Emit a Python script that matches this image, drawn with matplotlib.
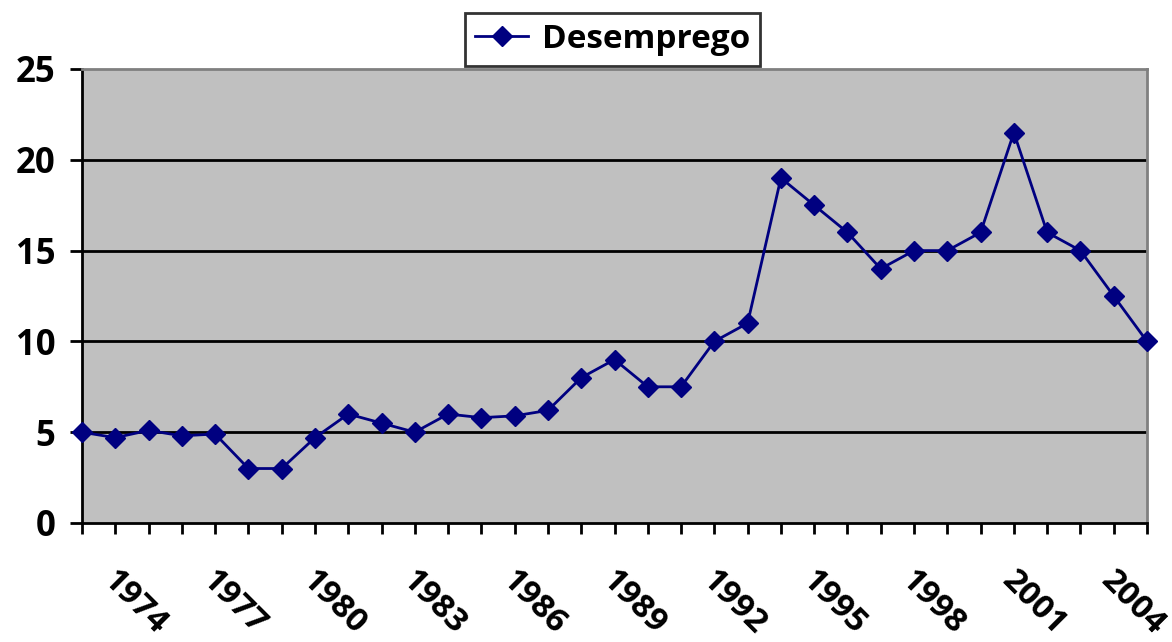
import matplotlib.pyplot as plt
import matplotlib.transforms as mtransforms

# Data
years = list(range(1973, 2006))
desemprego = [5, 4.7, 5.1, 4.8, 4.9, 3, 3, 4.7, 6, 5.5, 5, 6, 5.8, 5.9, 6.2,
              8, 9, 7.5, 7.5, 10, 11, 19, 17.5, 16, 14, 15, 15, 16, 21.5,
              16, 15, 12.5, 10]
tick_years = list(range(1974, 2005, 3))

plt.rcParams['font.family'] = ['Open Sans', 'DejaVu Sans']
plt.rcParams['font.weight'] = 'bold'

fig = plt.figure(figsize=(11.72, 6.42), dpi=100)
ax = fig.add_axes([82/1172, 1 - 523/642, (1147-82)/1172, (523-69)/642])
ax.set_facecolor('#C0C0C0')

ax.plot(years, desemprego, color='#000080', linewidth=2, marker='D',
        markersize=10, label='Desemprego', zorder=3, clip_on=False)

ax.set_xlim(1973, 2005)
ax.set_ylim(0, 25)
ax.set_yticks([0, 5, 10, 15, 20, 25])
ax.set_xticks(years)

# Horizontal gridlines
for v in [5, 10, 15, 20]:
    ax.axhline(v, color='black', linewidth=2, zorder=1)

for side in ['top', 'right']:
    ax.spines[side].set_color('#808080')
    ax.spines[side].set_linewidth(2)
for side in ['left', 'bottom']:
    ax.spines[side].set_color('black')
    ax.spines[side].set_linewidth(2)

ax.tick_params(axis='y', direction='out', length=9, width=2, labelsize=25, pad=10)
ax.tick_params(axis='x', direction='out', length=8, width=2, labelsize=24, pad=22)

ax.set_xticklabels([str(y) if y in tick_years else '' for y in years],
                   rotation=-45, rotation_mode='anchor', ha='left', va='top',
                   fontweight='bold')
shift = mtransforms.ScaledTranslation(4/100, 0, fig.dpi_scale_trans)
for lbl in ax.get_xticklabels():
    lbl.set_transform(lbl.get_transform() + shift)
for lbl in ax.get_yticklabels():
    lbl.set_fontweight('bold')

leg = ax.legend(loc='upper center', bbox_to_anchor=(0.498, 1.123), frameon=True,
                fancybox=False, edgecolor='black', handlelength=1.6,
                borderpad=0.3, handletextpad=0.4, borderaxespad=0,
                prop={'weight': 'bold', 'size': 24})
leg.get_frame().set_linewidth(2)

plt.savefig('out.png', dpi=100)
